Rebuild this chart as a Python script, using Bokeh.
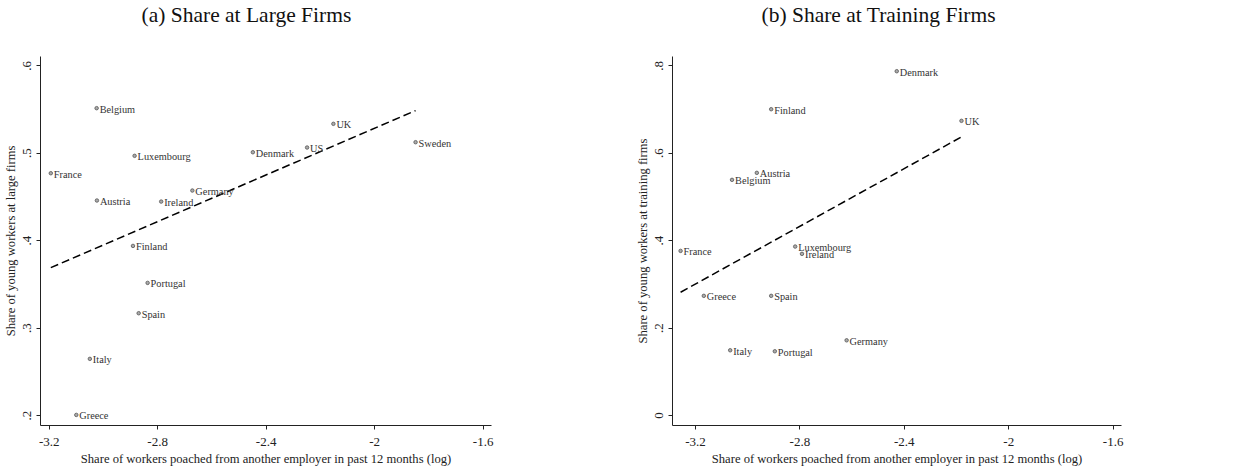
import numpy as np
from bokeh.plotting import figure
from bokeh.layouts import row
from bokeh.models import Range1d, FixedTicker, Title
from bokeh.core.properties import value
from bokeh.embed import file_html
from bokeh.resources import INLINE

# ---- data: panel (a) ----
a_countries = ["Belgium", "Luxembourg", "France", "Austria", "Ireland", "Germany",
               "Denmark", "US", "UK", "Sweden", "Finland", "Portugal", "Spain",
               "Italy", "Greece"]
a_x = [-3.025, -2.885, -3.194, -3.024, -2.787, -2.672, -2.449, -2.249, -2.152,
       -1.849, -2.891, -2.837, -2.870, -3.050, -3.100]
a_y = [0.5515, 0.497, 0.4771, 0.4459, 0.4447, 0.4573, 0.5011, 0.5065, 0.5336,
       0.5126, 0.394, 0.3517, 0.317, 0.2648, 0.2007]

# ---- data: panel (b) ----
b_countries = ["Denmark", "Finland", "UK", "Austria", "Belgium", "France",
               "Luxembourg", "Ireland", "Greece", "Spain", "Germany", "Italy",
               "Portugal"]
b_x = [-2.429, -2.910, -2.181, -2.965, -3.060, -3.257, -2.818, -2.792, -3.168,
       -2.910, -2.621, -3.067, -2.896]
b_y = [0.7876, 0.7007, 0.6741, 0.5551, 0.5391, 0.3766, 0.3865, 0.3698, 0.2737,
       0.2737, 0.172, 0.1492, 0.1469]

x_ticks = [-3.2, -2.8, -2.4, -2.0, -1.6]
x_tick_labels = ["-3.2", "-2.8", "-2.4", "-2", "-1.6"]
a_y_ticks = [0.2, 0.3, 0.4, 0.5, 0.6]
a_y_tick_labels = [".2", ".3", ".4", ".5", ".6"]
b_y_ticks = [0.0, 0.2, 0.4, 0.6, 0.8]
b_y_tick_labels = ["0", ".2", ".4", ".6", ".8"]

x_label = "Share of workers poached from another employer in past 12 months (log)"
SERIF = "Liberation Serif"


def panel(title, xs, ys, names, xr, yr, yticks, ylabels, ylab,
          title_offset, mb_left, mb_right, fw):
    p = figure(output_backend="svg", toolbar_location=None,
               frame_width=fw, frame_height=369,
               x_range=Range1d(*xr), y_range=Range1d(*yr),
               min_border_left=mb_left, min_border_right=mb_right,
               min_border_top=56, min_border_bottom=40)
    p.outline_line_color = None
    p.grid.visible = False
    p.background_fill_color = "white"

    # spacer panel between the title and the frame (nearest to frame)
    p.add_layout(Title(text=" ", text_font_size="1px", standoff=27), "above")

    p.title.text = title
    p.title.align = "left"
    p.title.offset = title_offset
    p.title.standoff = 0
    p.title.text_font = SERIF
    p.title.text_font_size = "21.5px"
    p.title.text_font_style = "normal"
    p.title.text_color = "#111111"

    for ax in (p.xaxis[0], p.yaxis[0]):
        ax.axis_line_color = "#222222"
        ax.axis_line_width = 1
        ax.major_tick_line_color = "#222222"
        ax.major_tick_out = 4
        ax.major_tick_in = 0
        ax.minor_tick_out = 0
        ax.minor_tick_in = 0
        ax.major_label_text_font = SERIF
        ax.major_label_text_font_size = "13px"
        ax.major_label_text_color = "#222222"
        ax.axis_label_text_font = SERIF
        ax.axis_label_text_font_size = "12.6px"
        ax.axis_label_text_font_style = "normal"
        ax.axis_label_text_color = "#222222"
        ax.axis_label_standoff = 3

    p.xaxis.major_label_standoff = 8
    p.yaxis.major_label_standoff = 5

    p.xaxis.ticker = FixedTicker(ticks=x_ticks)
    p.xaxis.major_label_overrides = {t: l for t, l in zip(x_ticks, x_tick_labels)}
    p.xaxis.axis_label = x_label

    p.yaxis.ticker = FixedTicker(ticks=yticks)
    p.yaxis.major_label_overrides = {t: l for t, l in zip(yticks, ylabels)}
    p.yaxis.major_label_orientation = "vertical"
    p.yaxis.axis_label = ylab

    # linear fit
    xa = np.array(xs)
    ya = np.array(ys)
    slope, intercept = np.polyfit(xa, ya, 1)
    fx = np.array([xa.min(), xa.max()])
    p.line(fx, intercept + slope * fx, line_color="black", line_width=1.5,
           line_dash="8 4")

    p.scatter(xs, ys, size=3.5, marker="circle", line_color="#555555",
              fill_color="#aaaaaa", line_width=0.8)
    p.text(xs, ys, text=names, x_offset=3, y_offset=1,
           text_baseline="middle", text_align="left",
           text_font=value(SERIF), text_font_size="10.3px",
           text_color="#333333")
    return p


p1 = panel("(a) Share at Large Firms", a_x, a_y, a_countries,
           (-3.232, -1.569), (0.1886, 0.6106), a_y_ticks, a_y_tick_labels,
           "Share of young workers at large firms", 101, 36, 141, 451)
p2 = panel("(b) Share at Training Firms", b_x, b_y, b_countries,
           (-3.288, -1.568), (-0.0229, 0.8213), b_y_ticks, b_y_tick_labels,
           "Share of young workers at training firms", 89, 38, 20, 449)

layout = row(p1, p2)
open("out.html", "w").write(file_html(layout, INLINE))
